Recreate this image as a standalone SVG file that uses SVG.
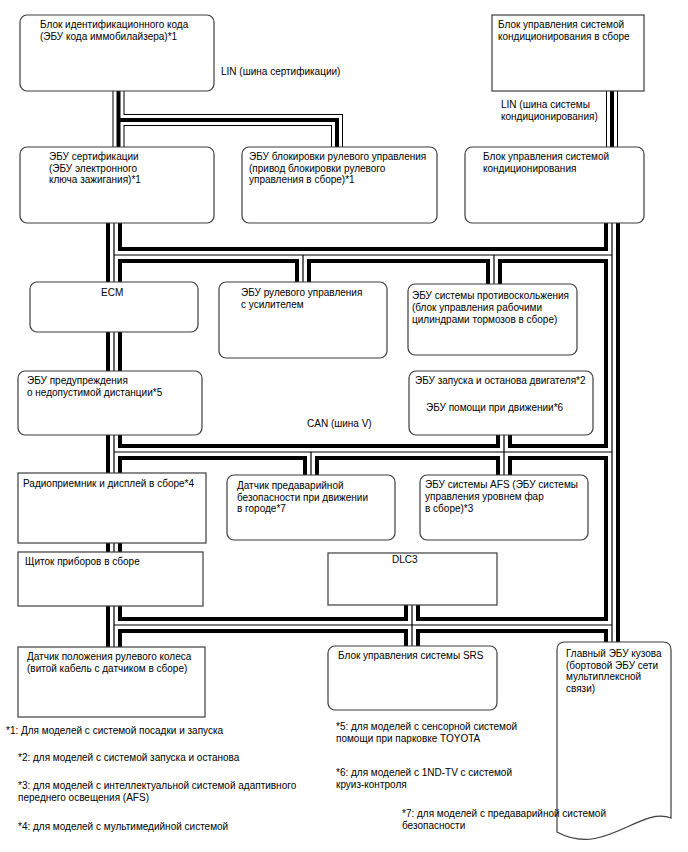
<svg xmlns="http://www.w3.org/2000/svg" xmlns:xlink="http://www.w3.org/1999/xlink" width="688" height="852" viewBox="0 0 688 852">
<style>
 .bx{fill:#fff;stroke:#3c3c3c;stroke-width:1.2}
 text{font-family:"Liberation Sans",Arial,sans-serif;font-size:10px;fill:#000}
 .c1{fill:none;stroke:#000;stroke-width:16}
 .c2{fill:none;stroke:#fff;stroke-width:8}
 .c3{fill:none;stroke:#000;stroke-width:1.2}
 .l1{fill:none;stroke:#000;stroke-width:12}
 .l2{fill:none;stroke:#fff;stroke-width:10}
 .l3{fill:none;stroke:#000;stroke-width:4}
</style>
<defs>
 <path id="can" d="M114,215 V655 M612,215 V650 M114,255 H612 M303,255 V290 M494,255 V290 M114,452 H612 M311,452 V482 M504,430 V482 M114,625 H612 M412,600 V654"/>
 <path id="lin" d="M118.5,85 V152 M118.5,120 H337 V152 M612,85 V152"/>
</defs>
<rect width="688" height="852" fill="#fff"/>
<g id="connectors">
 <use xlink:href="#lin" href="#lin" class="l1"/>
 <use xlink:href="#lin" href="#lin" class="l2"/>
 <use xlink:href="#lin" href="#lin" class="l3"/>
 <use xlink:href="#can" href="#can" class="c1"/>
 <use xlink:href="#can" href="#can" class="c2"/>
 <use xlink:href="#can" href="#can" class="c3"/>
 <text x="221" y="75">LIN (шина сертификации)</text>
 <text x="501" y="108">LIN (шина системы</text>
 <text x="501" y="120">кондиционирования)</text>
 <text x="307" y="427">CAN (шина V)</text>
</g>
<g id="immobilizer">
 <rect class="bx" x="20" y="15" width="194" height="76" rx="7"/>
 <text x="40" y="28">Блок идентификационного кода</text>
 <text x="40" y="40">(ЭБУ кода иммобилайзера)*1</text>
</g>
<g id="ac-assy">
 <rect class="bx" x="492" y="15" width="152" height="76"/>
 <text x="498" y="28">Блок управления системой</text>
 <text x="498" y="40">кондиционирования в сборе</text>
</g>
<g id="cert-ecu">
 <rect class="bx" x="20" y="147" width="194" height="76" rx="7"/>
 <text x="49" y="159.5">ЭБУ сертификации</text>
 <text x="49" y="171.5">(ЭБУ электронного</text>
 <text x="49" y="183">ключа зажигания)*1</text>
</g>
<g id="steer-lock">
 <rect class="bx" x="242" y="147" width="195" height="76" rx="7"/>
 <text x="249" y="159.5">ЭБУ блокировки рулевого управления</text>
 <text x="249" y="171.5">(привод блокировки рулевого</text>
 <text x="249" y="183">управления в сборе)*1</text>
</g>
<g id="ac-ctrl">
 <rect class="bx" x="465" y="147" width="179" height="76" rx="7"/>
 <text x="483" y="159.5">Блок управления системой</text>
 <text x="483" y="171.5">кондиционирования</text>
</g>
<g id="ecm">
 <rect class="bx" x="30" y="282" width="168" height="50" rx="7"/>
 <text x="101" y="296">ECM</text>
</g>
<g id="eps">
 <rect class="bx" x="219" y="282" width="168" height="76" rx="7"/>
 <text x="241" y="296">ЭБУ рулевого управления</text>
 <text x="241" y="307.5">с усилителем</text>
</g>
<g id="skid">
 <rect class="bx" x="408" y="284" width="169" height="71" rx="7"/>
 <text x="412" y="299">ЭБУ системы противоскольжения</text>
 <text x="412" y="311">(блок управления рабочими</text>
 <text x="412" y="323">цилиндрами тормозов в сборе)</text>
</g>
<g id="warning">
 <rect class="bx" x="18" y="371" width="184" height="64" rx="7"/>
 <text x="27" y="384">ЭБУ предупреждения</text>
 <text x="27" y="396">о недопустимой дистанции*5</text>
</g>
<g id="eng-stop">
 <rect class="bx" x="409" y="371" width="184" height="64" rx="7"/>
 <text x="415" y="384">ЭБУ запуска и останова двигателя*2</text>
 <text x="426" y="411">ЭБУ помощи при движении*6</text>
</g>
<g id="radio">
 <rect class="bx" x="18" y="473" width="188" height="70"/>
 <text x="23" y="487">Радиоприемник и дисплей в сборе*4</text>
</g>
<g id="urban">
 <rect class="bx" x="227" y="475" width="168" height="65" rx="7"/>
 <text x="237" y="488.5">Датчик предаварийной</text>
 <text x="237" y="500.5">безопасности при движении</text>
 <text x="237" y="512">в городе*7</text>
</g>
<g id="afs">
 <rect class="bx" x="420" y="475" width="168" height="65" rx="7"/>
 <text x="425" y="487.5">ЭБУ системы AFS (ЭБУ системы</text>
 <text x="425" y="499.5">управления уровнем фар</text>
 <text x="425" y="511.5">в сборе)*3</text>
</g>
<g id="cluster">
 <rect class="bx" x="18" y="552" width="185" height="54"/>
 <text x="25" y="565">Щиток приборов в сборе</text>
</g>
<g id="dlc3">
 <rect class="bx" x="328" y="553" width="169" height="52"/>
 <text x="392" y="563">DLC3</text>
</g>
<g id="steer-sensor">
 <rect class="bx" x="18" y="647" width="187" height="70"/>
 <text x="27" y="660">Датчик положения рулевого колеса</text>
 <text x="27" y="672">(витой кабель с датчиком в сборе)</text>
</g>
<g id="srs">
 <rect class="bx" x="328" y="646" width="169" height="64" rx="7"/>
 <text x="338" y="659">Блок управления системы SRS</text>
</g>
<g id="body-ecu">
 <path class="bx" d="M557,650 Q557,642 565,642 H663 Q671,642 671,650 V818 C640,806 604,858 557,832 Z"/>
 <text x="566" y="656.5">Главный ЭБУ кузова</text>
 <text x="566" y="668.5">(бортовой ЭБУ сети</text>
 <text x="566" y="680">мультиплексной</text>
 <text x="566" y="691.5">связи)</text>
</g>
<g id="notes">
 <text x="6" y="734">*1: Для моделей с системой посадки и запуска</text>
 <text x="18" y="761">*2: для моделей с системой запуска и останова</text>
 <text x="18" y="789">*3: для моделей с интеллектуальной системой адаптивного</text>
 <text x="18" y="801">переднего освещения (AFS)</text>
 <text x="18" y="830">*4: для моделей с мультимедийной системой</text>
 <text x="336" y="730">*5: для моделей с сенсорной системой</text>
 <text x="336" y="742">помощи при парковке TOYOTA</text>
 <text x="336" y="776">*6: для моделей с 1ND-TV с системой</text>
 <text x="336" y="788">круиз-контроля</text>
 <text x="402" y="817">*7: для моделей с предаварийной системой</text>
 <text x="402" y="829">безопасности</text>
</g>
</svg>
